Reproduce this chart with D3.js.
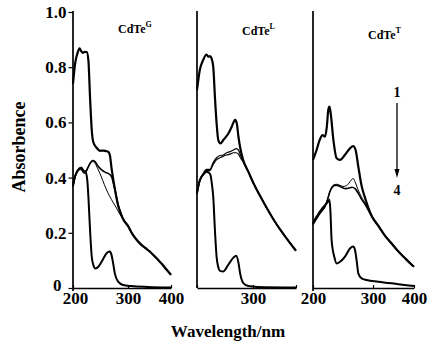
<!DOCTYPE html>
<html><head><meta charset="utf-8">
<script src="https://cdn.jsdelivr.net/npm/d3@7"></script>
<style>
body{margin:0;background:#fff}
svg{display:block}
text{font-family:"Liberation Serif","Times New Roman",serif;font-weight:bold;fill:#000}
</style>
</head><body>
<svg id="c" width="433" height="345"></svg>
<script>
// ---- data ----
const wavelengthTicks = [200, 300, 400];
const absTicks = [0, 0.2, 0.4, 0.6, 0.8, 1.0];
const sampleNames = ["CdTe", "CdTe", "CdTe"];
const sampleSups = ["G", "L", "T"];
const arrowLabels = ["1", "4"];

const tailG = [[291,0.25],[300,0.225],[310,0.196],[320,0.175],[330,0.158],[340,0.145],[350,0.133],[360,0.118],[370,0.102],[380,0.085],[390,0.066],[400,0.048]];
const G1 = [[200,0.74],[204,0.815],[208,0.85],[212,0.868],[215,0.858],[218,0.852],[221,0.856],[225,0.855],[228,0.825],[231,0.69],[234,0.575],[237,0.528],[243,0.508],[249,0.497],[255,0.498],[260,0.496],[264,0.494],[267,0.482],[270,0.435],[276,0.36],[282,0.3],[286,0.275],...tailG];
const G2 = [[200,0.37],[204,0.405],[208,0.425],[212,0.435],[216,0.43],[220,0.42],[224,0.425],[228,0.44],[232,0.455],[236,0.462],[240,0.458],[246,0.44],[252,0.428],[258,0.42],[264,0.415],[270,0.404],[274,0.375],[277,0.35],[282,0.3],[286,0.275],...tailG];
const G3 = [[200,0.365],[204,0.4],[208,0.42],[212,0.43],[216,0.425],[220,0.415],[224,0.42],[228,0.44],[232,0.452],[236,0.458],[240,0.452],[245,0.432],[249,0.415],[254,0.39],[260,0.36],[267,0.331],[273,0.31],[279,0.29],[285,0.268],...tailG];
const G4 = [[200,0.37],[203,0.4],[207,0.42],[211,0.43],[215,0.437],[219,0.425],[223,0.42],[226,0.39],[228,0.33],[231,0.21],[234,0.115],[237,0.083],[241,0.071],[246,0.077],[252,0.095],[261,0.126],[267,0.132],[270,0.12],[273,0.089],[276,0.053],[282,0.023],[291,0.011],[308,0.007],[347,0.004],[400,0.002]];

const tailL = [[292,0.42],[301,0.38],[316,0.335],[332,0.29],[347,0.25],[363,0.212],[378,0.18],[390,0.155],[400,0.135]];
const L1 = [[200,0.717],[205,0.79],[211,0.826],[217,0.846],[220,0.838],[223,0.84],[226,0.832],[229,0.802],[232,0.693],[235,0.597],[238,0.536],[242,0.524],[247,0.536],[256,0.56],[262,0.584],[268,0.609],[271,0.597],[274,0.548],[277,0.51],[283,0.46],...tailL];
const L2 = [[200,0.345],[205,0.39],[211,0.415],[217,0.43],[223,0.43],[229,0.455],[235,0.472],[241,0.48],[247,0.482],[253,0.49],[259,0.494],[265,0.5],[270,0.505],[274,0.5],[278,0.48],[283,0.46],...tailL];
const L3 = [[200,0.34],[205,0.385],[211,0.41],[217,0.425],[223,0.425],[229,0.448],[235,0.465],[241,0.472],[247,0.478],[253,0.482],[259,0.485],[265,0.49],[270,0.49],[274,0.485],[278,0.47],[283,0.455],...tailL];
const L4 = [[200,0.343],[204,0.385],[208,0.403],[213,0.415],[217,0.421],[221,0.418],[224,0.41],[227,0.37],[229,0.331],[232,0.21],[235,0.113],[238,0.075],[241,0.062],[247,0.06],[256,0.085],[265,0.11],[270,0.117],[274,0.092],[277,0.053],[283,0.017],[292,0.007],[310,0.004],[400,0.002]];

const tailT = [[298,0.26],[313,0.225],[329,0.19],[345,0.162],[362,0.132],[378,0.108],[394,0.085],[400,0.077]];
const T1 = [[200,0.464],[206,0.5],[211,0.536],[216,0.554],[220,0.548],[223,0.584],[225.5,0.645],[227.5,0.657],[229.5,0.633],[234,0.536],[239.5,0.47],[245,0.464],[253,0.482],[261.7,0.506],[267,0.514],[271,0.5],[275.5,0.44],[281,0.37],[287,0.325],...tailT];
const T2 = [[200,0.232],[205,0.25],[210,0.268],[215,0.283],[220,0.298],[224,0.32],[228,0.35],[232,0.368],[236,0.375],[240,0.376],[245,0.372],[250,0.368],[255,0.37],[260,0.38],[264,0.392],[267,0.397],[270,0.385],[274,0.362],[278,0.342],[282,0.325],[287,0.308],...tailT];
const T3 = [[200,0.23],[205,0.248],[210,0.265],[215,0.28],[220,0.295],[224,0.318],[228,0.348],[232,0.365],[236,0.372],[240,0.372],[245,0.368],[250,0.362],[255,0.36],[260,0.362],[265,0.365],[270,0.36],[275,0.345],[280,0.325],[287,0.302],...tailT];
const T4 = [[200,0.235],[205,0.255],[210,0.272],[215,0.288],[220,0.3],[224,0.31],[226,0.315],[227.5,0.32],[229,0.28],[231,0.174],[235.5,0.113],[239.5,0.089],[245,0.095],[253,0.113],[262,0.144],[267,0.15],[270,0.138],[273,0.095],[275.5,0.053],[281,0.035],[289.5,0.029],[313,0.023],[362,0.014],[400,0.007]];

const panelCurves = [[G1,G2,G3,G4],[L1,L2,L3,L4],[T1,T2,T3,T4]];
const panelTickLabels = [[200,300,400],[300],[200,300,400]];

// ---- layout ----
const svg = d3.select("#c");
const yTop = 12, yBot = 288;
const y = d3.scaleLinear().domain([0, 1]).range([yBot, yTop]);
const panels = [
  {r:[73,128,171], lab:[118,33]},
  {r:[197,253,296], lab:[242,35]},
  {r:[313,373,414], lab:[368,39]}
];
const widths = [[2.2, 1.6, 1, 2], [2.2, 1.2, 1.2, 2], [2.2, 1, 1.6, 2]];

panels.forEach((p, i) => {
  const x = d3.scaleLinear().domain(wavelengthTicks).range(p.r);
  const g = svg.append("g");
  // x axis
  const xa = d3.axisBottom(x).tickValues(wavelengthTicks)
    .tickSizeInner(-3).tickSizeOuter(0).tickPadding(4)
    .tickFormat(d => panelTickLabels[i].includes(d) ? d : "");
  const gx = g.append("g").attr("transform", `translate(0,${yBot})`).call(xa);
  gx.select(".domain").attr("stroke", "#000").attr("stroke-width", 1.7);
  gx.selectAll(".tick line").attr("stroke", "#000").attr("stroke-width", 1.2);
  gx.selectAll("text").style("font-size", "17px").attr("fill", "#000");
  if (i === 0) gx.selectAll(".tick").filter(d => d === 200).select("text").attr("dx", "2");
  // left vertical line
  g.append("line").attr("x1", p.r[0]).attr("x2", p.r[0])
    .attr("y1", yTop - 1).attr("y2", yBot + (i === 1 ? 0 : 3))
    .attr("stroke", "#000").attr("stroke-width", 1.7);
  // curves
  const line = d3.line().x(d => x(d[0])).y(d => y(d[1])).curve(d3.curveMonotoneX);
  [1, 2, 0, 3].forEach(k => {
    g.append("path").datum(panelCurves[i][k])
      .attr("d", line).attr("fill", "none").attr("stroke", "#000")
      .attr("stroke-width", widths[i][k]).attr("stroke-linejoin", "round");
  });
  // label
  const t = g.append("text").attr("x", p.lab[0]).attr("y", p.lab[1]).style("font-size", "12px");
  t.append("tspan").text(sampleNames[i]);
  t.append("tspan").attr("dy", -6).style("font-size", "8px").text(sampleSups[i]);
});

// y axis (panel 1)
const ya = d3.axisLeft(y).tickValues(absTicks).tickSizeInner(4).tickSizeOuter(0).tickPadding(2)
  .tickFormat(d => d === 0 ? "0" : d3.format(".1f")(d));
const gy = svg.append("g").attr("transform", `translate(${panels[0].r[0] - 0.5},0)`).call(ya);
gy.select(".domain").remove();
gy.selectAll(".tick line").attr("stroke", "#000").attr("stroke-width", 1.2);
gy.selectAll("text").style("font-size", "17px").attr("fill", "#000");
gy.selectAll(".tick").filter(d => d === 0).select("text").attr("dy", "0.15em").attr("dx", "-5");

// axis titles
svg.append("text").attr("transform", "translate(25,147) rotate(-90)")
  .attr("text-anchor", "middle").style("font-size", "18px").text("Absorbence");
svg.append("text").attr("x", 228).attr("y", 337)
  .attr("text-anchor", "middle").style("font-size", "17px").text("Wavelength/nm");

// arrow 1 -> 4
svg.append("text").attr("x", 397).attr("y", 97).attr("text-anchor", "middle").style("font-size", "14px").text(arrowLabels[0]);
svg.append("line").attr("x1", 397).attr("x2", 397).attr("y1", 103).attr("y2", 172).attr("stroke", "#000").attr("stroke-width", 1.3);
svg.append("path").attr("d", "M394.5,169 L399.5,169 L397,178 Z").attr("fill", "#000");
svg.append("text").attr("x", 397).attr("y", 195).attr("text-anchor", "middle").style("font-size", "14px").text(arrowLabels[1]);
</script>
</body></html>
